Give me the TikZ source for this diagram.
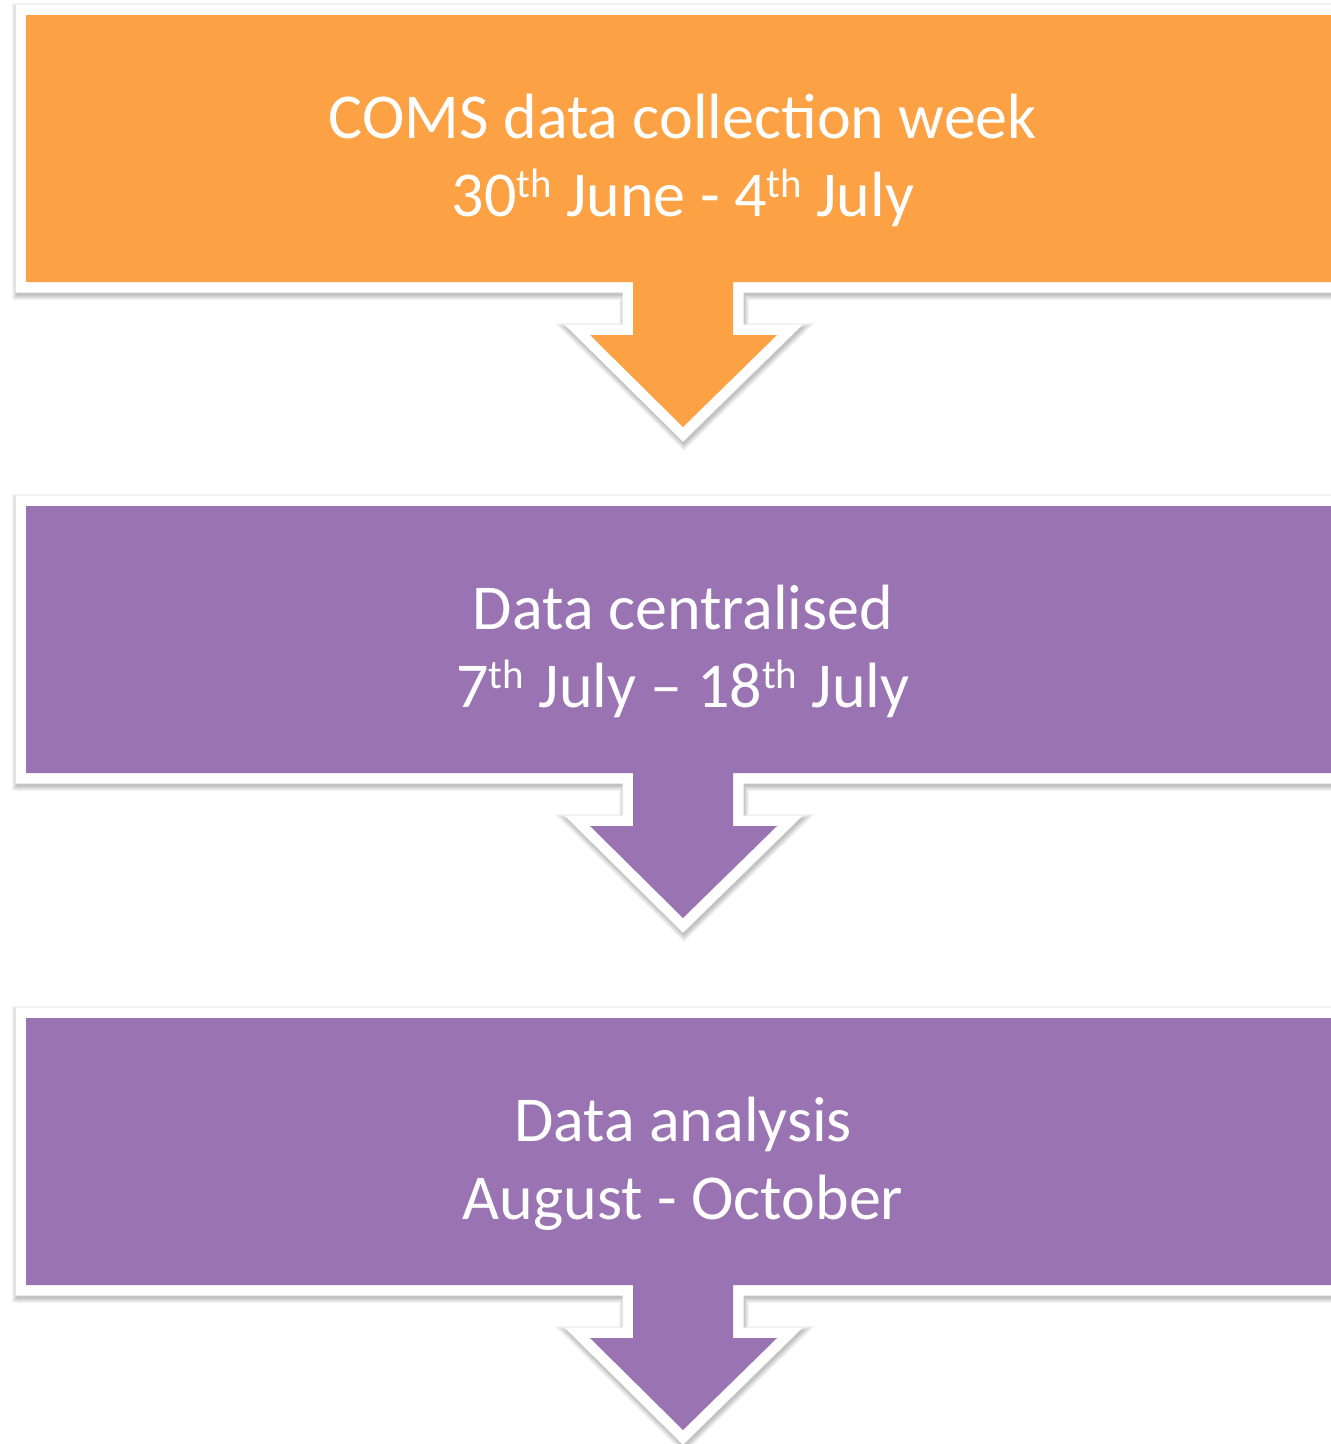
\documentclass[tikz,border=0pt]{standalone}
\usepackage{fontspec}
\setmainfont{Carlito}
\definecolor{stageorange}{RGB}{252,161,68}
\definecolor{stagepurple}{RGB}{154,116,178}
\newcommand\stageoutline[1]{%
  (26,#1) -- (1360,#1) -- (1360,#1+267) -- (733,#1+267) -- (733,#1+320)
  -- (777,#1+320) -- (683,#1+412) -- (590,#1+320) -- (633,#1+320)
  -- (633,#1+267) -- (26,#1+267) -- cycle}
\newcommand\sups[1]{\raisebox{19pt}{\fontsize{41}{41}\selectfont #1}}
\tikzset{
  stagetext/.style={text=white, anchor=base, inner sep=0pt,
    font=\fontsize{64}{78}\selectfont},
  shadowlayer/.style={draw=black, fill=black, line width=#1, opacity=0.045},
  rim/.style={draw=white, line width=21pt, fill=white},
}
\newcommand\stagebox[2]{%
  \begin{scope}[shift={(1,3)}]
    \foreach \w in {30,28,26,24,22,21} {
      \path[shadowlayer=\w pt] \stageoutline{#1};
    }
  \end{scope}
  \path[rim] \stageoutline{#1};
  \path[fill=#2] \stageoutline{#1};
}
\begin{document}
\begin{tikzpicture}[x=1pt,y=-1pt]
  \useasboundingbox (0,0) rectangle (1331,1444);
  \clip (0,0) rectangle (1331,1444);
  \stagebox{15}{stageorange}
  \stagebox{506}{stagepurple}
  \stagebox{1018}{stagepurple}
  \node[stagetext] (s1a) at (683,138) {COMS data collection week};
  \node[stagetext] (s1b) at (683,216) {30\sups{th} June - 4\sups{th} July};
  \node[stagetext] (s2a) at (683,629) {Data centralised};
  \node[stagetext] (s2b) at (683,707) {7\sups{th} July – 18\sups{th} July};
  \node[stagetext] (s3a) at (683,1141) {Data analysis};
  \node[stagetext] (s3b) at (683,1219) {August - October};
\end{tikzpicture}
\end{document}
